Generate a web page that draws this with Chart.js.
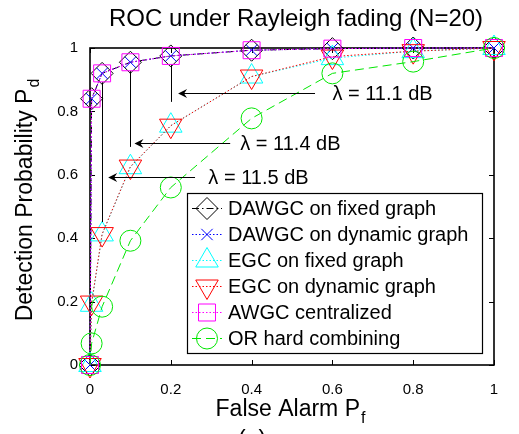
<!DOCTYPE html>
<html>
<head>
<meta charset="utf-8">
<script src="https://cdn.jsdelivr.net/npm/chart.js@4.4.0/dist/chart.umd.min.js"></script>
<style>
  html, body { margin: 0; padding: 0; background: #fff; }
  #wrap { width: 519px; height: 434px; }
</style>
</head>
<body>
<div id="wrap"><canvas id="roc" width="519" height="434"></canvas></div>
<script>
const FONT = '"Liberation Sans", Arial, Helvetica, sans-serif';

// false alarm probabilities (x) shared by every curve
const pf = [0, 0.004, 0.03, 0.1, 0.2, 0.4, 0.6, 0.8, 1];

// detection probabilities
const dawgcFixed   = [0, 0.84, 0.92, 0.955, 0.975, 0.993, 0.998, 1, 1];
const dawgcDynamic = [0, 0.84, 0.92, 0.955, 0.975, 0.993, 0.998, 1, 1];
const egcFixed     = [0, 0.19, 0.412, 0.624, 0.755, 0.91, 0.968, 0.99, 1];
const egcDynamic   = [0, 0.197, 0.413, 0.626, 0.755, 0.91, 0.973, 0.99, 1];
const awgcCentral  = [0, 0.84, 0.92, 0.955, 0.975, 0.993, 0.998, 1, 1];
const orHard       = [0, 0.068, 0.184, 0.392, 0.56, 0.778, 0.92, 0.957, 1];

const seriesNames = [
  'DAWGC on fixed graph',
  'DAWGC on dynamic graph',
  'EGC on fixed graph',
  'EGC on dynamic graph',
  'AWGC centralized',
  'OR hard combining'
];

const xTicks = [0, 0.2, 0.4, 0.6, 0.8, 1];
const yTicks = [0, 0.2, 0.4, 0.6, 0.8, 1];

const titleText = 'ROC under Rayleigh fading (N=20)';
const xTitle = ['False Alarm P', 'f'];
const yTitle = ['Detection Probability P', 'd'];

// threshold annotations, in data units (x of drop line, arrow y, arrow tip/tail x)
const lambdaNotes = [
  { text: '\u03bb = 11.1 dB', x: 0.2,  top: 0.975, bottom: 0.83,  y: 0.857, tip: 0.218, tail: 0.557, textX: 0.6 },
  { text: '\u03bb = 11.4 dB', x: 0.1,  top: 0.955, bottom: 0.688, y: 0.699, tip: 0.11,  tail: 0.347, textX: 0.372 },
  { text: '\u03bb = 11.5 dB', x: 0.03, top: 0.92,  bottom: 0.451, y: 0.594, tip: 0.045, tail: 0.26,  textX: 0.293 }
];

const styles = [
  { color: '#000000', dash: [7, 3, 1.5, 3], point: 'rectRot',  radius: 11, rotation: 0 },
  { color: '#0000ff', dash: [1.5, 2],       point: 'crossRot', radius: 8,  rotation: 0 },
  { color: '#00ffff', dash: [1.5, 2],       point: 'triangle', radius: 13, rotation: 0 },
  { color: '#ff0000', dash: [1.5, 2],       point: 'triangle', radius: 13, rotation: 180 },
  { color: '#ff00ff', dash: [1.5, 2],       point: 'rect',     radius: 12, rotation: 0 },
  { color: '#00e600', dash: [9, 5],         point: 'circle',   radius: 10.5, rotation: 0 }
];

const values = [dawgcFixed, dawgcDynamic, egcFixed, egcDynamic, awgcCentral, orHard];

const datasets = values.map((ys, i) => ({
  label: seriesNames[i],
  data: pf.map((x, j) => ({ x: x, y: ys[j] })),
  borderColor: styles[i].color,
  borderWidth: 1,
  borderDash: styles[i].dash,
  pointStyle: styles[i].point,
  pointRadius: styles[i].radius,
  pointRotation: styles[i].rotation,
  pointBorderColor: styles[i].color,
  pointBackgroundColor: 'rgba(0,0,0,0)',
  pointBorderWidth: 1,
  fill: false,
  tension: 0,
  clip: false,
  order: values.length - i
}));

function tickText(v) {
  if (v === 0) return '0';
  if (v === 1) return '1';
  return v.toFixed(1);
}

function drawSubText(ctx, parts, x, y, size) {
  ctx.font = size + 'px ' + FONT;
  const w1 = ctx.measureText(parts[0]).width;
  ctx.font = Math.round(size * 0.7) + 'px ' + FONT;
  const w2 = ctx.measureText(parts[1]).width;
  const x0 = x - (w1 + w2) / 2;
  ctx.textAlign = 'left';
  ctx.textBaseline = 'alphabetic';
  ctx.font = size + 'px ' + FONT;
  ctx.fillText(parts[0], x0, y);
  ctx.font = Math.round(size * 0.7) + 'px ' + FONT;
  ctx.fillText(parts[1], x0 + w1 + 1, y + size * 0.32);
}

function marker(ctx, st, x, y) {
  ctx.save();
  ctx.setLineDash([]);
  ctx.strokeStyle = st.color;
  ctx.fillStyle = 'rgba(0,0,0,0)';
  ctx.lineWidth = 1;
  Chart.helpers.drawPoint(ctx, { pointStyle: st.point, radius: st.radius, rotation: st.rotation, borderWidth: 1 }, x, y);
  ctx.restore();
}

const framePlugin = {
  id: 'frame',
  beforeDatasetsDraw(chart) {
    const { ctx, chartArea: a, scales } = chart;
    ctx.save();
    ctx.strokeStyle = '#000';
    ctx.lineWidth = 1;
    ctx.beginPath();
    xTicks.forEach(v => {
      const px = Math.round(scales.x.getPixelForValue(v)) + 0.5;
      ctx.moveTo(px, a.bottom); ctx.lineTo(px, a.bottom - 5);
      ctx.moveTo(px, a.top); ctx.lineTo(px, a.top + 5);
    });
    yTicks.forEach(v => {
      const py = Math.round(scales.y.getPixelForValue(v)) + 0.5;
      ctx.moveTo(a.left, py); ctx.lineTo(a.left + 5, py);
      ctx.moveTo(a.right, py); ctx.lineTo(a.right - 5, py);
    });
    ctx.stroke();
    ctx.lineWidth = 1.6;
    ctx.strokeRect(a.left, a.top, a.right - a.left, a.bottom - a.top);
    ctx.restore();
  },
  afterDatasetsDraw(chart) {
    const { ctx, scales } = chart;
    const sx = scales.x, sy = scales.y;
    ctx.save();
    ctx.strokeStyle = '#000';
    ctx.fillStyle = '#000';
    ctx.lineWidth = 1;
    lambdaNotes.forEach(n => {
      const vx = Math.round(sx.getPixelForValue(n.x)) + 0.5;
      ctx.beginPath();
      ctx.moveTo(vx, sy.getPixelForValue(n.top) + 9);
      ctx.lineTo(vx, sy.getPixelForValue(n.bottom));
      ctx.stroke();
      const ay = Math.round(sy.getPixelForValue(n.y)) + 0.5;
      const tip = sx.getPixelForValue(n.tip);
      ctx.beginPath();
      ctx.moveTo(tip + 4, ay);
      ctx.lineTo(sx.getPixelForValue(n.tail), ay);
      ctx.stroke();
      ctx.beginPath();
      ctx.moveTo(tip, ay);
      ctx.lineTo(tip + 9, ay - 4.5);
      ctx.lineTo(tip + 6, ay);
      ctx.lineTo(tip + 9, ay + 4.5);
      ctx.closePath();
      ctx.fill();
      ctx.font = '20px ' + FONT;
      ctx.textAlign = 'left';
      ctx.textBaseline = 'middle';
      ctx.fillText(n.text, sx.getPixelForValue(n.textX), ay + 1);
    });
    ctx.restore();
  },
  afterDraw(chart) {
    const { ctx, chartArea: a } = chart;
    ctx.save();
    ctx.fillStyle = '#000';
    // title
    ctx.font = '24px ' + FONT;
    ctx.textAlign = 'center';
    ctx.textBaseline = 'alphabetic';
    ctx.fillText(titleText, (a.left + a.right) / 2 + 4, 26);
    // axis titles
    drawSubText(ctx, xTitle, (a.left + a.right) / 2 - 2, 416, 23);
    ctx.save();
    ctx.translate(32, (a.top + a.bottom) / 2 - 6);
    ctx.rotate(-Math.PI / 2);
    drawSubText(ctx, yTitle, 0, 0, 23);
    ctx.restore();
    // clipped panel label
    ctx.font = '23px ' + FONT;
    ctx.textAlign = 'center';
    ctx.fillText('(a)', 252, 447);

    // legend box
    const lx = a.left + 97, ly = a.top + 145;
    const lw = a.right - 12 - lx, lh = a.bottom - 12 - ly;
    ctx.fillStyle = '#fff';
    ctx.fillRect(lx, ly, lw, lh);
    ctx.strokeStyle = '#000';
    ctx.lineWidth = 1.2;
    ctx.strokeRect(lx + 0.5, ly + 0.5, lw, lh);
    seriesNames.forEach((name, i) => {
      const st = styles[i];
      const ry = ly + 15.5 + i * 26;
      ctx.save();
      ctx.strokeStyle = st.color;
      ctx.lineWidth = 1;
      ctx.setLineDash(st.dash);
      ctx.beginPath();
      ctx.moveTo(lx + 5, ry);
      ctx.lineTo(lx + 35, ry);
      ctx.stroke();
      ctx.restore();
      marker(ctx, st, lx + 20, ry);
      ctx.fillStyle = '#000';
      ctx.font = '20px ' + FONT;
      ctx.textAlign = 'left';
      ctx.textBaseline = 'middle';
      ctx.fillText(name, lx + 41, ry + 1);
    });
    ctx.restore();
  }
};

new Chart(document.getElementById('roc'), {
  type: 'line',
  data: { datasets: datasets },
  options: {
    responsive: false,
    animation: false,
    layout: { padding: { left: 0, right: 25, top: 48, bottom: 0 } },
    scales: {
      x: {
        type: 'linear',
        min: 0,
        max: 1,
        afterFit: s => { s.height = 69; },
        afterBuildTicks: s => { s.ticks = xTicks.map(v => ({ value: v })); },
        ticks: { callback: v => tickText(v), color: '#000', font: { family: FONT, size: 15 }, padding: 16, maxRotation: 0, autoSkip: false },
        grid: { display: false, drawTicks: false },
        border: { display: false }
      },
      y: {
        type: 'linear',
        min: 0,
        max: 1,
        afterFit: s => { s.width = 90; },
        afterBuildTicks: s => { s.ticks = yTicks.map(v => ({ value: v })); },
        ticks: { callback: v => tickText(v), color: '#000', font: { family: FONT, size: 15 }, padding: 12, autoSkip: false },
        grid: { display: false, drawTicks: false },
        border: { display: false }
      }
    },
    plugins: { legend: { display: false }, tooltip: { enabled: false } }
  },
  plugins: [framePlugin]
});
</script>
</body>
</html>
